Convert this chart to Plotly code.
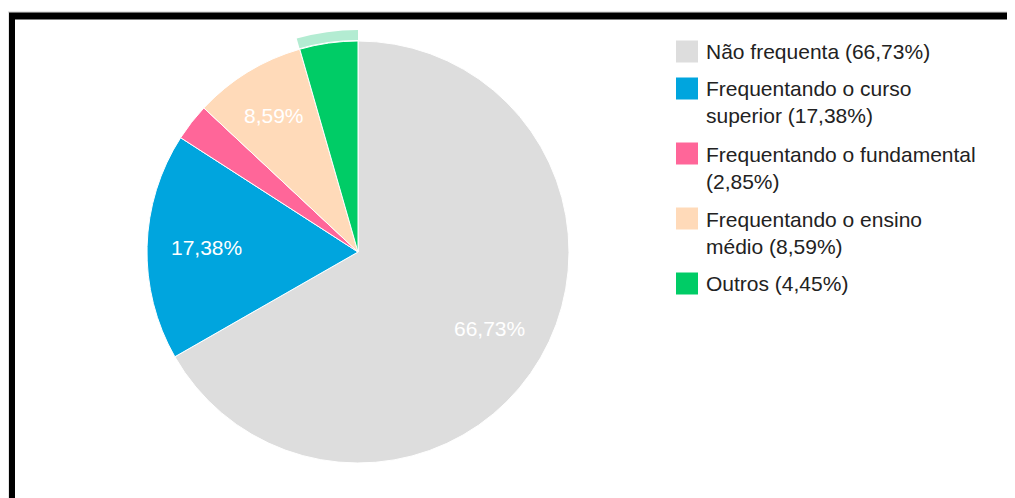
import math
import plotly.graph_objects as go

OFF = 8  # the page body margin shifts the figure by 8px
W, H = 1015 - OFF, 498 - OFF

# data
labels = ["Não frequenta", "Frequentando o curso superior", "Frequentando o fundamental",
          "Frequentando o ensino médio", "Outros"]
legend_lines = [["Não frequenta"], ["Frequentando o curso", "superior"],
                ["Frequentando o fundamental", ""], ["Frequentando o ensino", "médio"],
                ["Outros"]]
values = [66.73, 17.38, 2.85, 8.59, 4.45]
colors = ["#dddddd", "#00a5de", "#ff6699", "#ffdab9", "#00cc66"]
highlight = "Outros"
ring_color = "#b3ecd2"


def pct(v):
    return "{:.2f}".format(v).replace(".", ",") + "%"


def px_x(x):
    return (x - OFF) / W


def px_y(y):
    return 1 - (y - OFF) / H


cx, cy, r = 358, 252, 211
r_ring = 222

fig = go.Figure()

# hover ring around the highlighted slice
fig.add_trace(go.Pie(
    labels=labels, values=values, sort=False, direction="clockwise",
    hole=(r + 1) / r_ring,
    marker=dict(colors=[ring_color if l == highlight else "rgba(0,0,0,0)" for l in labels],
                line=dict(width=0)),
    textinfo="none", hoverinfo="skip", showlegend=False,
    domain=dict(x=[px_x(cx - r_ring), px_x(cx + r_ring)],
                y=[px_y(cy + r_ring), px_y(cy - r_ring)]),
))

fig.add_trace(go.Pie(
    labels=labels, values=values, sort=False, direction="clockwise",
    marker=dict(colors=colors, line=dict(color="white", width=1)),
    textinfo="none", showlegend=False,
    domain=dict(x=[px_x(cx - r), px_x(cx + r)], y=[px_y(cy + r), px_y(cy - r)]),
))

shapes = []
annotations = []

# slice labels, placed like google charts does (at ~0.72 of the radius)
total = sum(values)
acc = 0
for v in values:
    mid = (acc + v / 2) / total * 2 * math.pi
    acc += v
    if v <= 5:
        continue
    k = 0.72 if v > 10 else 0.76
    lx = cx + k * r * math.sin(mid)
    ly = cy - k * r * math.cos(mid)
    annotations.append(dict(xref="paper", yref="paper", x=px_x(lx), y=px_y(ly),
                            xanchor="center", yanchor="middle", showarrow=False,
                            text=pct(v),
                            font=dict(family="Liberation Sans, Arial", size=21, color="white")))

# legend drawn by hand (bigger swatches than plotly's own)
row_y = 51.5
for lines, v, c in zip(legend_lines, values, colors):
    txt = [l for l in lines if l]
    if len(lines) > 1 and not lines[1]:
        txt.append("(" + pct(v) + ")")
    else:
        txt[-1] = txt[-1] + " (" + pct(v) + ")"
    shapes.append(dict(type="rect", xref="paper", yref="paper",
                       x0=px_x(676), x1=px_x(698), y0=px_y(row_y + 11), y1=px_y(row_y - 11),
                       fillcolor=c, line=dict(width=0)))
    n = len(txt)
    annotations.append(dict(xref="paper", yref="paper", x=px_x(704),
                            y=px_y(row_y + (n - 1) * 14), xanchor="left", yanchor="middle",
                            align="left", showarrow=False, text="<br>".join(txt),
                            font=dict(family="Liberation Sans, Arial", size=21, color="#222222")))
    row_y += 28 * n + 9

# frame
shapes += [
    dict(type="line", xref="paper", yref="paper", x0=px_x(8), x1=1, y0=px_y(12), y1=px_y(12),
         line=dict(color="#cccccc", width=1)),
    dict(type="line", xref="paper", yref="paper", x0=px_x(8), x1=px_x(8), y0=0, y1=px_y(12),
         line=dict(color="#cccccc", width=1)),
    dict(type="line", xref="paper", yref="paper", x0=px_x(9), x1=1, y0=px_y(16), y1=px_y(16),
         line=dict(color="black", width=7)),
    dict(type="line", xref="paper", yref="paper", x0=px_x(12), x1=px_x(12), y0=0, y1=px_y(13),
         line=dict(color="black", width=6)),
]

fig.update_layout(
    width=W, height=H,
    margin=dict(l=0, r=0, t=0, b=0),
    paper_bgcolor="white", plot_bgcolor="white",
    shapes=shapes, annotations=annotations,
    font=dict(family="Liberation Sans, Arial"),
)

fig.write_html("out.html")
